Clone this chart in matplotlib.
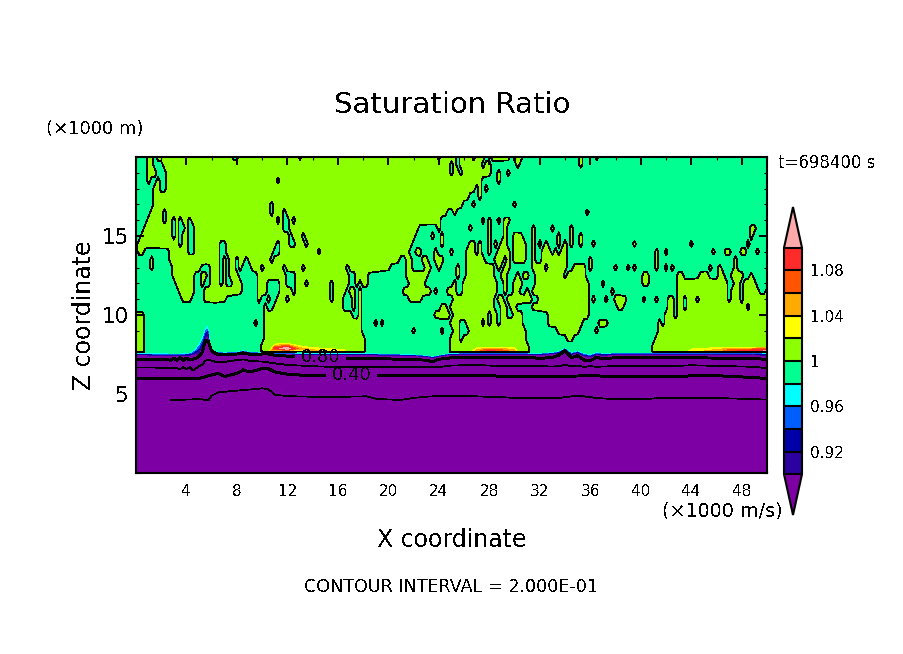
import numpy as np
import matplotlib
matplotlib.use("Agg")
import matplotlib.pyplot as plt
from matplotlib.colors import ListedColormap, BoundaryNorm
from matplotlib.ticker import MultipleLocator

W, H = 904, 654
plt.rcParams['font.family'] = 'DejaVu Sans'
plt.rcParams['text.antialiased'] = False

# colour scale
LEVELS = [0.90, 0.92, 0.94, 0.96, 0.98, 1.00, 1.02, 1.04, 1.06, 1.08, 1.10]
COLORS = ["#2d00a0", "#0000a8", "#005eff", "#00ffff", "#00ff90",
          "#8cff00", "#ffff00", "#ffaa00", "#ff5500", "#ff2a2a"]
UNDER = "#7c00a3"
OVER = "#ffaaaa"
CBAR_TICKS = [0.92, 0.96, 1.00, 1.04, 1.08]
CBAR_LABELS = ["0.92", "0.96", "1", "1.04", "1.08"]

# upper field: heights (km, 0.5 km apart) and, for each, column runs (0.25 km cells)
# where the ratio is just below 1; elsewhere it is just above 1
Z_UP = [20, 19.5, 19, 18.5, 18, 17.5, 17, 16.5, 16, 15.5, 15, 14.5, 14,
        13.5, 13, 12.5, 12, 11.5, 11, 10.5, 10, 9.5, 9, 8.5, 8]
BELOW_ONE = 0.99
ABOVE_ONE = 1.01
GREEN_RUNS = [
    [(0,3),(6,6),(31,32),(52,52),(96,96),(102,102),(107,107),(111,112),(119,119),(123,140),(142,145),(147,200)],
    [(0,3),(6,8),(100,100),(102,102),(110,110),(113,120),(122,140),(142,200)],
    [(0,3),(7,9),(100,100),(103,103),(113,114),(116,117),(119,200)],
    [(0,3),(5,6),(8,9),(45,45),(110,114),(116,200)],
    [(0,5),(8,9),(108,108),(110,110),(112,200)],
    [(0,5),(106,108),(110,200)],
    [(0,5),(43,43),(104,106),(108,119),(121,200)],
    [(0,4),(9,9),(43,43),(47,47),(99,100),(102,142),(144,200)],
    [(0,3),(9,9),(12,12),(14,14),(17,17),(45,45),(47,48),(50,50),(97,109),(111,111),(113,114),(116,116),(119,200)],
    [(0,2),(12,12),(14,15),(17,18),(47,48),(90,95),(97,105),(107,111),(113,116),(118,125),(127,131),(133,137),(139,194),(197,200)],
    [(0,1),(12,12),(14,14),(17,18),(49,49),(53,53),(89,93),(95,96),(98,111),(113,116),(118,119),(123,125),(127,133),(135,137),(139,140),(142,194),(196,200)],
    [(0,0),(14,14),(17,18),(27,28),(45,45),(49,50),(54,54),(88,96),(98,105),(108,108),(110,111),(113,113),(115,115),(118,119),(124,125),(127,127),(129,129),(131,133),(135,135),(137,137),(139,140),(142,144),(146,157),(159,175),(177,193),(195,200)],
    [(0,0),(3,10),(17,18),(27,28),(44,45),(58,58),(87,88),(91,94),(96,99),(101,104),(108,108),(110,111),(113,114),(119,119),(124,125),(127,128),(132,132),(134,134),(137,164),(166,167),(169,182),(184,186),(189,191),(194,196),(198,200)],
    [(0,4),(6,10),(27,27),(29,29),(32,32),(35,35),(43,43),(84,85),(88,90),(93,94),(98,104),(111,113),(117,117),(119,119),(124,125),(127,128),(137,143),(145,164),(166,189),(191,200)],
    [(0,4),(6,11),(21,23),(27,27),(29,29),(32,32),(34,36),(40,40),(47,47),(53,53),(67,67),(81,85),(88,91),(94,95),(97,101),(103,104),(114,114),(116,116),(119,125),(130,130),(137,138),(143,143),(145,151),(153,155),(157,157),(159,164),(166,167),(169,169),(171,181),(183,184),(186,189),(191,200)],
    [(0,11),(19,20),(23,23),(27,27),(29,29),(33,38),(48,50),(68,69),(74,85),(93,101),(103,104),(114,115),(118,120),(122,122),(125,126),(136,136),(143,160),(163,171),(174,178),(182,184),(187,188),(193,194),(196,200)],
    [(0,12),(19,20),(22,23),(27,27),(29,30),(34,38),(42,45),(48,50),(54,54),(62,62),(68,69),(71,71),(74,86),(92,100),(102,103),(115,116),(118,119),(123,126),(144,147),(149,160),(163,171),(188,189),(192,192),(197,200)],
    [(0,13),(19,21),(34,38),(42,45),(50,50),(62,62),(67,67),(70,70),(72,84),(94,94),(96,98),(102,103),(115,116),(118,119),(122,123),(125,125),(144,150),(152,171),(188,188),(192,192),(198,199)],
    [(0,14),(18,21),(29,38),(40,41),(43,44),(48,48),(62,62),(66,68),(70,70),(72,86),(91,100),(114,114),(117,117),(126,127),(144,144),(146,148),(150,151),(156,160),(162,164),(166,168),(171,171),(174,174),(178,178),(188,188),(192,192)],
    [(0,40),(42,43),(66,68),(70,70),(72,96),(99,99),(114,115),(118,118),(121,121),(122,125),(144,152),(155,168),(171,171),(174,174),(194,194)],
    [(3,40),(69,70),(72,94),(100,100),(112,112),(115,115),(118,119),(123,130),(144,167),(171,171)],
    [(3,37),(39,40),(72,75),(77,77),(79,99),(103,104),(110,110),(112,112),(115,115),(123,130),(142,146),(150,165),(167,167)],
    [(3,40),(72,87),(89,96),(98,100),(103,105),(124,133),(141,145),(147,165)],
    [(3,40),(73,99),(103,103),(124,136),(139,164)],
    [(3,39),(73,99),(125,163)],
]

# lower layer: heights (km) of the iso-surfaces along x (km)
X_LOW = [0,0.5,0.75,1.5,2.5,2.75,3,3.25,3.5,3.75,
         4,4.25,4.5,4.75,5,5.25,5.5,5.75,6,6.5,
         7,8,8.5,9,9.75,10,10.5,11,12,13,
         14,15,16,16.5,16.75,18,18.25,19,20,21,
         22,23,23.5,24,24.75,25,26,26.5,27,28,
         29,30,30.25,31,31.25,32,33,33.5,34,34.5,
         35,35.5,36,36.5,37,38,40,40.75,41,42,
         43,43.5,44,46,47,48,49,49.75,50]
Z_020 = [4.62,4.62,4.62,4.62,4.62,4.62,4.62,4.62,4.62,4.62,
         4.65,4.65,4.66,4.67,4.68,4.66,4.63,4.62,4.9,5.1,
         5.14,5.21,5.26,5.28,5.34,5.36,5.3,4.95,4.87,4.84,
         4.83,4.83,4.83,4.83,4.83,4.85,4.85,4.7,4.65,4.63,
         4.75,4.83,4.85,4.87,4.87,4.87,4.87,4.87,4.85,4.82,
         4.8,4.75,4.75,4.75,4.75,4.75,4.75,4.75,4.8,4.85,
         4.87,4.85,4.8,4.75,4.72,4.68,4.7,4.7,4.72,4.75,
         4.75,4.75,4.77,4.75,4.72,4.7,4.68,4.65,4.65]
Z_040 = [6.0,6.0,6.0,6.0,6.0,6.0,6.0,6.0,6.0,6.0,
         6.0,6.0,6.0,6.0,6.0,6.03,6.1,6.15,6.2,6.32,
         6.1,6.3,6.53,6.4,6.55,6.63,6.6,6.4,6.25,6.2,
         6.2,6.2,6.2,6.2,6.2,6.2,6.2,6.2,6.2,6.2,
         6.18,6.18,6.18,6.17,6.17,6.17,6.17,6.17,6.17,6.17,
         6.11,6.11,6.11,6.11,6.11,6.11,6.11,6.11,6.11,6.12,
         6.14,6.15,6.15,6.15,6.13,6.1,6.08,6.09,6.1,6.1,
         6.12,6.13,6.15,6.16,6.12,6.08,6.03,6.0,6.0]
Z_060 = [6.67,6.67,6.67,6.67,6.66,6.63,6.68,6.62,6.58,6.7,
         6.55,6.7,6.5,6.62,6.75,6.85,7.1,7.18,7.1,7.0,
         7.03,7.15,7.19,7.1,7.06,7.05,7.0,6.94,6.84,6.8,
         6.76,6.73,6.72,6.72,6.72,6.72,6.72,6.71,6.7,6.7,
         6.72,6.72,6.7,6.7,6.78,6.8,6.82,6.82,6.84,6.8,
         6.76,6.76,6.76,6.76,6.76,6.76,6.74,6.76,6.84,6.75,
         6.78,6.72,6.76,6.72,6.74,6.76,6.76,6.76,6.76,6.76,
         6.78,6.8,6.82,6.78,6.76,6.74,6.72,6.65,6.65]
Z_080 = [7.21,7.21,7.2,7.19,7.17,7.13,7.28,7.13,7.3,7.13,
         7.28,7.15,7.2,7.26,7.4,7.65,8.42,8.3,7.7,7.5,
         7.47,7.53,7.6,7.52,7.5,7.55,7.53,7.45,7.4,7.36,
         7.33,7.3,7.27,7.27,7.27,7.26,7.26,7.24,7.22,7.2,
         7.18,7.14,7.05,7.2,7.27,7.3,7.33,7.33,7.33,7.33,
         7.31,7.31,7.31,7.31,7.31,7.25,7.32,7.45,7.75,7.3,
         7.42,7.15,7.1,7.34,7.22,7.3,7.3,7.3,7.3,7.3,
         7.3,7.3,7.3,7.27,7.27,7.27,7.25,7.2,7.2]
Z_090 = [7.47,7.47,7.47,7.46,7.45,7.44,7.46,7.44,7.46,7.44,
         7.46,7.44,7.5,7.55,7.65,8.0,8.6,8.7,7.62,7.58,
         7.56,7.6,7.66,7.6,7.58,7.6,7.58,7.55,7.55,7.5,
         7.5,7.5,7.5,7.5,7.5,7.48,7.48,7.47,7.45,7.44,
         7.42,7.38,7.3,7.4,7.48,7.5,7.5,7.5,7.5,7.5,
         7.5,7.5,7.5,7.5,7.5,7.48,7.55,7.6,7.85,7.5,
         7.62,7.42,7.35,7.5,7.45,7.5,7.52,7.52,7.52,7.52,
         7.52,7.52,7.52,7.52,7.5,7.5,7.5,7.45,7.45]
Z_098 = [7.62,7.62,7.6,7.6,7.6,7.58,7.6,7.58,7.6,7.6,
         7.62,7.65,7.78,8.0,8.3,8.73,9.3,9.35,7.78,7.72,
         7.68,7.72,7.8,7.72,7.68,7.66,7.64,7.63,7.62,7.62,
         7.62,7.62,7.62,7.62,7.62,7.62,7.62,7.6,7.58,7.56,
         7.54,7.48,7.42,7.5,7.6,7.62,7.63,7.63,7.63,7.63,
         7.63,7.63,7.63,7.63,7.62,7.62,7.68,7.75,7.98,7.68,
         7.78,7.62,7.55,7.68,7.62,7.64,7.64,7.64,7.64,7.64,
         7.64,7.64,7.64,7.64,7.64,7.64,7.64,7.64,7.6]
PEAK = [1.01,1.01,.99,.99,.99,.99,.99,.99,.99,.99,
        .99,.99,.99,.99,.99,.99,.99,.99,.99,.99,
        .99,.99,.99,.99,.99,1.01,1.01,1.09,1.12,1.05,
        1.05,1.04,1.03,1.03,1.01,1.01,.99,.99,.99,.99,
        .99,.99,.99,.99,.99,1.01,1.01,1.01,1.05,1.09,
        1.07,1.05,1.01,1.01,.99,.99,.99,.99,.99,.99,
        .99,.99,.99,.99,.99,.99,.99,.99,1.01,1.01,
        1.01,1.01,1.03,1.05,1.07,1.085,1.09,1.10,1.12]
# the bright patch near x = 12 stands taller than the rest of the streak
STREAK_TOP = {11: 8.2, 12: 8.25, 13: 8.1}
LAYER_VALUES = [0.0, 0.2, 0.4, 0.6, 0.8, 0.9, 0.98]
LINE_START_020 = 2.6
LABEL_SPOTS = {0.4: (17.1, 6.2), 0.8: (14.6, 7.28)}

# assemble the fields
x_up = np.arange(201) * 0.25
mask_green = np.zeros((len(Z_UP), x_up.size), bool)
for j, runs in enumerate(GREEN_RUNS):
    for a, b in runs:
        mask_green[j, a:b + 1] = True

def signed_width(row):
    # distance (in cells) from each cell to the nearest cell of the other class in its row
    out = np.zeros(row.size)
    for i in range(row.size):
        for d in range(1, 7):
            lo, hi = max(i - d, 0), min(i + d, row.size - 1)
            if row[lo] != row[i] or row[hi] != row[i]:
                out[i] = d
                break
        else:
            out[i] = 6
    return out

dist = np.vstack([signed_width(r) for r in mask_green])
step = 0.006 + 0.006 * (dist - 0.5) / 5.5
v_up = np.where(mask_green, 1.0 - step, 1.0 + step)

x_low = np.array(X_LOW, float)
peak = np.array(PEAK, float)
zero = np.zeros_like(x_low)
z098 = np.array(Z_098, float)
z_peak = z098 + np.where(peak > 1.04, 0.12, 0.05)
z_top = np.maximum(8.0, z098 + 0.3)
for xk, zk in STREAK_TOP.items():
    z_top[x_low == xk] = zk
    z_peak[x_low == xk] = z098[x_low == xk] + 0.25
Y_low = np.vstack([zero, Z_020, Z_040, Z_060, Z_080, Z_090, z098, z_peak, z_top])
X_lw = np.tile(x_low, (Y_low.shape[0], 1))
top_vals = np.where(mask_green[-1, np.rint(x_low / 0.25).astype(int)], BELOW_ONE, ABOVE_ONE)
V_low = np.vstack([np.full_like(x_low, v) for v in LAYER_VALUES] + [peak, top_vals])

# figure
fig = plt.figure(figsize=(W / 100, H / 100), dpi=100, facecolor='white')
L, R, T, B = 136, 767, 157, 473
ax = fig.add_axes([L / W, 1 - B / H, (R - L) / W, (B - T) / H])
cmap = ListedColormap(COLORS)
cmap.set_under(UNDER)
cmap.set_over(OVER)
norm = BoundaryNorm(LEVELS, cmap.N)

X_u, Y_u = np.meshgrid(x_up, Z_UP)
cf = ax.contourf(X_u, Y_u, v_up, levels=LEVELS, cmap=cmap, norm=norm, extend='both', zorder=1)
ax.contourf(X_lw, Y_low, V_low, levels=LEVELS, cmap=cmap, norm=norm, extend='both', zorder=2)

lw_thin, lw_thick = 0.55, 1.4
ax.contour(X_u, Y_u, v_up, levels=[1.0], colors='k', linewidths=lw_thin, antialiased=False, zorder=3)
ax.contour(X_lw, Y_low, V_low, levels=[1.0], colors='k', linewidths=lw_thin, antialiased=False, zorder=4)
ax.contour(X_lw, Y_low, V_low, levels=[0.6], colors='k', linewidths=lw_thin, antialiased=False, zorder=4)
first = int(np.searchsorted(x_low, LINE_START_020))
ax.contour(X_lw[:, first:], Y_low[:, first:], V_low[:, first:], levels=[0.2], colors='k',
           linewidths=lw_thin, antialiased=False, zorder=4)
cs = ax.contour(X_lw, Y_low, V_low, levels=[0.4, 0.8], colors='k', linewidths=lw_thick,
                antialiased=False, zorder=4)
labels = ax.clabel(cs, fmt='%.2f', fontsize=13, colors='k', inline=True, inline_spacing=6,
                   manual=list(LABEL_SPOTS.values()))
for t in labels:
    t.set_rotation(0)

ax.set_xlim(0, 50)
ax.set_ylim(0, 20)
ax.xaxis.set_major_locator(MultipleLocator(4))
ax.xaxis.set_minor_locator(MultipleLocator(2))
ax.yaxis.set_major_locator(MultipleLocator(5))
ax.yaxis.set_minor_locator(MultipleLocator(1))
ax.tick_params(which='major', direction='in', top=True, right=True, length=5.8, width=1.4)
ax.tick_params(which='minor', direction='in', top=True, right=True, length=2.2, width=0.8)
ax.tick_params(axis='x', labelsize=11, pad=8)
ax.tick_params(axis='y', labelsize=15.5, pad=5)
ax.set_xticks(np.arange(4, 49, 4))
ax.set_yticks([5, 10, 15])
for s in ax.spines.values():
    s.set_linewidth(1.5)
    s.set_zorder(10)

# colour bar (its axes span the end triangles too)
cax = fig.add_axes([784 / W, 1 - 515 / H, 18 / W, 308 / H])
cb = fig.colorbar(cf, cax=cax, extend='both', extendfrac=0.18, drawedges=True, spacing='uniform',
                  ticks=CBAR_TICKS)
cb.ax.set_yticklabels(CBAR_LABELS)
cb.ax.tick_params(length=0, labelsize=11, pad=6)
cb.ax.minorticks_off()
cb.outline.set_linewidth(1.5)
cb.dividers.set_linewidth(1.5)

def put(x, y, s, **kw):
    fig.text(x / W, 1 - y / H, s, ha=kw.pop('ha', 'center'), va='center', **kw)

put(452, 105, "Saturation Ratio", fontsize=21)
put(95, 129, "(×1000 m)", fontsize=13)
put(827, 163, "t=698400 s", fontsize=12)
put(452, 540, "X coordinate", fontsize=17)
put(84, 315, "Z coordinate", fontsize=17, rotation=90)
put(722, 511, "(×1000 m/s)", fontsize=13.8)
put(451, 587, "CONTOUR INTERVAL = 2.000E-01", fontsize=12.6)

fig.savefig("out.png", dpi=100)
